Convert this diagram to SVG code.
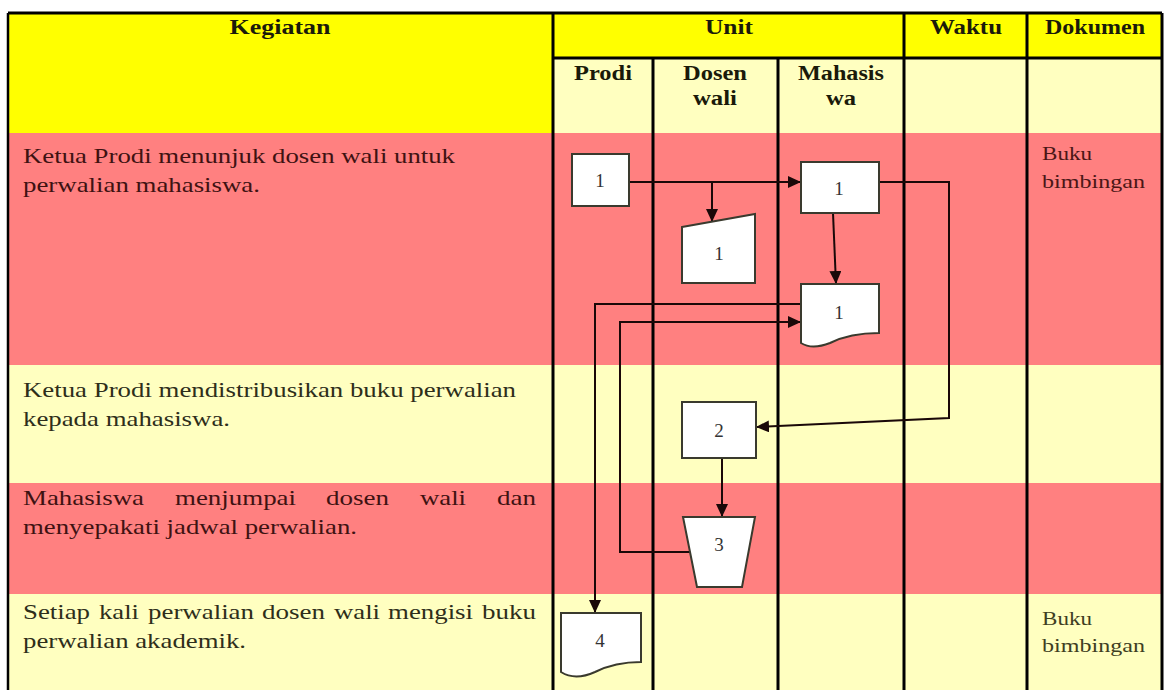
<svg xmlns="http://www.w3.org/2000/svg" width="1165" height="690" viewBox="0 0 1165 690">
<defs>
<style>
.hd{font-family:"Liberation Serif","Times New Roman",serif;font-weight:bold;font-size:20px;fill:#1a1a0a;text-anchor:middle}
.tp{font-family:"Liberation Serif","Times New Roman",serif;font-size:21px;fill:#3e1212}
.ty{font-family:"Liberation Serif","Times New Roman",serif;font-size:21px;fill:#2e2e1a}
.dp{font-family:"Liberation Serif","Times New Roman",serif;font-size:18px;fill:#4a1616}
.dy{font-family:"Liberation Serif","Times New Roman",serif;font-size:18px;fill:#3e3e22}
.lbl{font-family:"Liberation Serif","Times New Roman",serif;font-size:19px;fill:#333;text-anchor:middle}
.shape{fill:#fff;stroke:#3a3a2e;stroke-width:2}
.lane{stroke:#000;stroke-width:3;fill:none}
.conn{stroke:#1a0808;stroke-width:2;fill:none}
</style>
<marker id="ah" markerUnits="userSpaceOnUse" markerWidth="14" markerHeight="12" refX="13" refY="6" orient="auto">
<path d="M0,0 L13,6 L0,12 z" fill="#1a0808"/>
</marker>
</defs>
<rect width="1165" height="690" fill="#fff"/>
<!-- backgrounds -->
<rect x="8" y="13" width="545" height="120" fill="#ffff00"/>
<rect x="553" y="13" width="609" height="45" fill="#ffff00"/>
<rect x="553" y="58" width="609" height="75" fill="#ffffc0"/>
<rect x="8" y="133" width="1154" height="232" fill="#ff8080"/>
<rect x="8" y="365" width="1154" height="118" fill="#ffffc0"/>
<rect x="8" y="483" width="1154" height="111" fill="#ff8080"/>
<rect x="8" y="594" width="1154" height="96" fill="#ffffc0"/>
<!-- grid -->
<g id="grid">
<line class="lane" x1="8" y1="13" x2="1162" y2="13"/>
<line class="lane" x1="553" y1="58" x2="1162" y2="58"/>
<line class="lane" x1="8" y1="13" x2="8" y2="690" style="stroke-width:2.5"/>
<line class="lane" x1="553" y1="13" x2="553" y2="690"/>
<line class="lane" x1="653" y1="58" x2="653" y2="690"/>
<line class="lane" x1="778" y1="58" x2="778" y2="690"/>
<line class="lane" x1="904" y1="13" x2="904" y2="690"/>
<line class="lane" x1="1027" y1="13" x2="1027" y2="690"/>
<line class="lane" x1="1162" y1="13" x2="1162" y2="690"/>
</g>
<!-- headers -->
<g id="headers">
<text class="hd" x="280" y="34" textLength="101" lengthAdjust="spacingAndGlyphs">Kegiatan</text>
<text class="hd" x="729" y="34" textLength="48" lengthAdjust="spacingAndGlyphs">Unit</text>
<text class="hd" x="966" y="34" textLength="72" lengthAdjust="spacingAndGlyphs">Waktu</text>
<text class="hd" x="1095" y="34" textLength="100" lengthAdjust="spacingAndGlyphs">Dokumen</text>
<text class="hd" x="603" y="80" textLength="58" lengthAdjust="spacingAndGlyphs">Prodi</text>
<text class="hd" x="715" y="80" textLength="64" lengthAdjust="spacingAndGlyphs">Dosen</text>
<text class="hd" x="715" y="105" textLength="44" lengthAdjust="spacingAndGlyphs">wali</text>
<text class="hd" x="841" y="80" textLength="86" lengthAdjust="spacingAndGlyphs">Mahasis</text>
<text class="hd" x="841" y="105" textLength="30" lengthAdjust="spacingAndGlyphs">wa</text>
</g>
<!-- activity texts -->
<g id="activities">
<text class="tp" x="23" y="163" textLength="432" lengthAdjust="spacingAndGlyphs">Ketua Prodi menunjuk dosen wali untuk</text>
<text class="tp" x="23" y="192" textLength="237" lengthAdjust="spacingAndGlyphs">perwalian mahasiswa.</text>
<text class="ty" x="23" y="397" textLength="493" lengthAdjust="spacingAndGlyphs">Ketua Prodi mendistribusikan buku perwalian</text>
<text class="ty" x="23" y="426" textLength="207" lengthAdjust="spacingAndGlyphs">kepada mahasiswa.</text>
<text class="tp" x="23" y="505" textLength="121" lengthAdjust="spacingAndGlyphs">Mahasiswa</text>
<text class="tp" x="175" y="505" textLength="121" lengthAdjust="spacingAndGlyphs">menjumpai</text>
<text class="tp" x="326" y="505" textLength="63" lengthAdjust="spacingAndGlyphs">dosen</text>
<text class="tp" x="420" y="505" textLength="46" lengthAdjust="spacingAndGlyphs">wali</text>
<text class="tp" x="497" y="505" textLength="39" lengthAdjust="spacingAndGlyphs">dan</text>
<text class="tp" x="23" y="534" textLength="334" lengthAdjust="spacingAndGlyphs">menyepakati jadwal perwalian.</text>
<text class="ty" x="23" y="619" textLength="67" lengthAdjust="spacingAndGlyphs">Setiap</text>
<text class="ty" x="99" y="619" textLength="40" lengthAdjust="spacingAndGlyphs">kali</text>
<text class="ty" x="148" y="619" textLength="106" lengthAdjust="spacingAndGlyphs">perwalian</text>
<text class="ty" x="262" y="619" textLength="63" lengthAdjust="spacingAndGlyphs">dosen</text>
<text class="ty" x="334" y="619" textLength="46" lengthAdjust="spacingAndGlyphs">wali</text>
<text class="ty" x="388" y="619" textLength="85" lengthAdjust="spacingAndGlyphs">mengisi</text>
<text class="ty" x="482" y="619" textLength="54" lengthAdjust="spacingAndGlyphs">buku</text>
<text class="ty" x="23" y="648" textLength="223" lengthAdjust="spacingAndGlyphs">perwalian akademik.</text>
</g>
<!-- documents -->
<g id="documents">
<text class="dp" x="1042" y="160" textLength="50" lengthAdjust="spacingAndGlyphs">Buku</text>
<text class="dp" x="1042" y="188" textLength="103" lengthAdjust="spacingAndGlyphs">bimbingan</text>
<text class="dy" x="1042" y="625" textLength="50" lengthAdjust="spacingAndGlyphs">Buku</text>
<text class="dy" x="1042" y="652" textLength="103" lengthAdjust="spacingAndGlyphs">bimbingan</text>
</g>
<!-- connectors -->
<g id="connectors">
<path class="conn" d="M629,182 H801" marker-end="url(#ah)"/>
<path class="conn" d="M712,182 V222" marker-end="url(#ah)"/>
<path class="conn" d="M833,213 L836,284" marker-end="url(#ah)"/>
<path class="conn" d="M879,182 H949 V418 L756,427" marker-end="url(#ah)"/>
<path class="conn" d="M801,304 H595 V613" marker-end="url(#ah)"/>
<path class="conn" d="M690,552 H620 V322 H801" marker-end="url(#ah)"/>
<path class="conn" d="M722,458 V517" marker-end="url(#ah)"/>
</g>
<!-- nodes -->
<g id="node-p1">
<rect class="shape" x="572" y="154" width="57" height="52"/>
<text class="lbl" x="600" y="187">1</text>
</g>
<g id="node-d1">
<path class="shape" d="M682,227 L755,214 V283 H682 Z"/>
<text class="lbl" x="719" y="260">1</text>
</g>
<g id="node-m1">
<rect class="shape" x="801" y="162" width="78" height="51"/>
<text class="lbl" x="839" y="195">1</text>
</g>
<g id="node-m1doc">
<path class="shape" d="M801,284 H879 V333 Q850,333 830,343 Q812,350 801,343 Z"/>
<text class="lbl" x="839" y="319">1</text>
</g>
<g id="node-d2">
<rect class="shape" x="682" y="402" width="74" height="56"/>
<text class="lbl" x="719" y="437">2</text>
</g>
<g id="node-d3">
<path class="shape" d="M683,517 H755 L742,587 H697 Z"/>
<text class="lbl" x="719" y="551">3</text>
</g>
<g id="node-p4">
<path class="shape" d="M561,613 H641 V662 Q615,662 595,672 Q575,681 561,672 Z"/>
<text class="lbl" x="600" y="647">4</text>
</g>
</svg>
